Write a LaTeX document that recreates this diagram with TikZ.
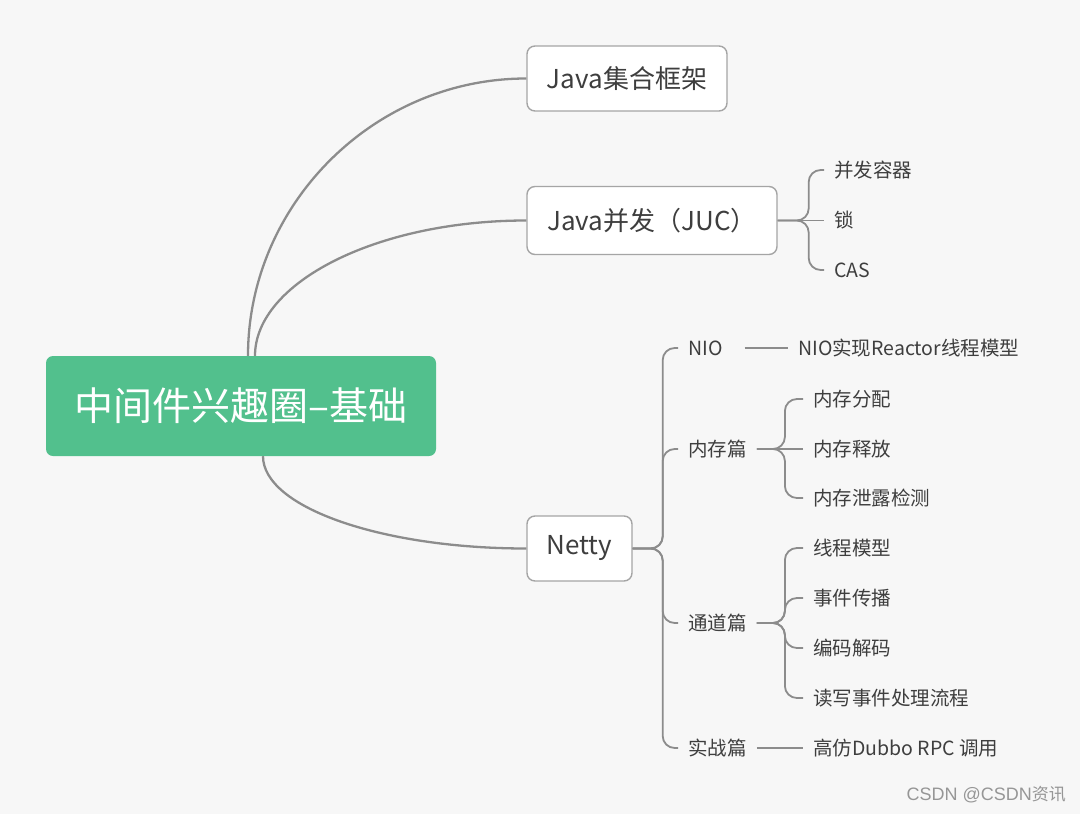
\documentclass[tikz,border=0pt]{standalone}
\usepackage{fontspec}
\setmainfont{Noto Sans CJK SC}
\newfontfamily\wmlatin{Liberation Sans}
\definecolor{bg}{RGB}{247,247,247}
\definecolor{rootgreen}{RGB}{82,192,141}
\definecolor{linegray}{RGB}{140,140,140}
\definecolor{boxgray}{RGB}{165,165,165}
\definecolor{textdark}{RGB}{62,62,62}
\definecolor{wmgray}{RGB}{150,150,150}
\begin{document}
\begin{tikzpicture}[x=1pt,y=-1pt,
  curve/.style={draw=linegray, line width=2.3pt},
  brk/.style={draw=linegray, line width=1.8pt, rounded corners=12pt},
  rootbox/.style={fill=rootgreen, draw=none, rounded corners=7pt, text=white,
    font=\fontsize{39}{44}\selectfont, inner sep=0pt, minimum width=390pt, minimum height=100pt},
  topic/.style={draw=boxgray, line width=1.4pt, rounded corners=8pt, fill=white, text=textdark,
    font=\fontsize{26}{30}\selectfont, inner sep=0pt, minimum height=65pt},
  leaf/.style={anchor=west, inner xsep=10pt, inner ysep=2pt, text=textdark,
    font=\fontsize{19.5}{23}\selectfont},
]
\useasboundingbox[fill=bg] (0,0) rectangle (1080,814);

% root and main topics
\node[rootbox] (root) at (241,406) {中间件兴趣圈–基础};
\node[topic, minimum width=200pt] (j1) at (627,78.5) {Java集合框架};
\node[topic, minimum width=250pt, minimum height=68pt] (j2) at (652,220.5) {Java并发（JUC）};
\node[topic, minimum width=105pt] (netty) at (579.5,548.5) {Netty};

% JUC children
\node[leaf] (c1) at (824,170) {并发容器};
\node[leaf] (c2) at (824,220.5) {锁};
\node[leaf] (c3) at (824,270) {CAS};

% Netty children
\node[leaf] (nio) at (678,348) {NIO};
\node[leaf] (nior) at (788,348) {NIO实现Reactor线程模型};
\node[leaf] (mem) at (678,449) {内存篇};
\node[leaf] (m1) at (803,399) {内存分配};
\node[leaf] (m2) at (803,449) {内存释放};
\node[leaf] (m3) at (803,498) {内存泄露检测};
\node[leaf] (ch) at (678,623) {通道篇};
\node[leaf] (h1) at (803,548) {线程模型};
\node[leaf] (h2) at (803,598) {事件传播};
\node[leaf] (h3) at (803,648) {编码解码};
\node[leaf] (h4) at (803,698) {读写事件处理流程};
\node[leaf] (sz) at (678,748) {实战篇};
\node[leaf] (dub) at (803,748) {高仿Dubbo RPC 调用};

% watermark
\node[anchor=east, inner sep=0pt, text=wmgray, font=\fontsize{17}{20}\selectfont] (wm) at (1066,795)
  {{\wmlatin\fontsize{18}{20}\selectfont CSDN @CSDN}资讯};

% curves from root
\draw[curve] ([xshift=7pt]root.north) .. controls +(0,-151) and +(-153,0) .. (j1.west);
\draw[curve] ([xshift=14pt]root.north) .. controls +(0,-73) and +(-150,0) .. (j2.west);
\draw[curve] ([xshift=22pt]root.south) .. controls +(0,51) and +(-145,0) .. (netty.west);

% JUC bracket
\draw[brk] (j2.east) -- ([xshift=31pt]j2.east) |- (c1.west);
\draw[brk] (j2.east) -- (c2.west);
\draw[brk] (j2.east) -- ([xshift=31pt]j2.east) |- (c3.west);

% Netty bracket
\draw[brk] (netty.east) -- ([xshift=30pt]netty.east) |- (nio.west);
\draw[brk] (netty.east) -- ([xshift=30pt]netty.east) |- (mem.west);
\draw[brk] (netty.east) -- ([xshift=30pt]netty.east) |- (ch.west);
\draw[brk] (netty.east) -- ([xshift=30pt]netty.east) |- (sz.west);

% NIO
\draw[brk] ([xshift=12pt]nio.east) -- (nior.west);

% memory
\draw[brk] (mem.east) -- ([xshift=28pt]mem.east) |- (m1.west);
\draw[brk] (mem.east) -- (m2.west);
\draw[brk] (mem.east) -- ([xshift=28pt]mem.east) |- (m3.west);

% channel
\draw[brk] (ch.east) -- ([xshift=28pt]ch.east) |- (h1.west);
\draw[brk] (ch.east) -- ([xshift=28pt]ch.east) |- (h2.west);
\draw[brk] (ch.east) -- ([xshift=28pt]ch.east) |- (h3.west);
\draw[brk] (ch.east) -- ([xshift=28pt]ch.east) |- (h4.west);

% practice
\draw[brk] (sz.east) -- (dub.west);
\end{tikzpicture}
\end{document}
